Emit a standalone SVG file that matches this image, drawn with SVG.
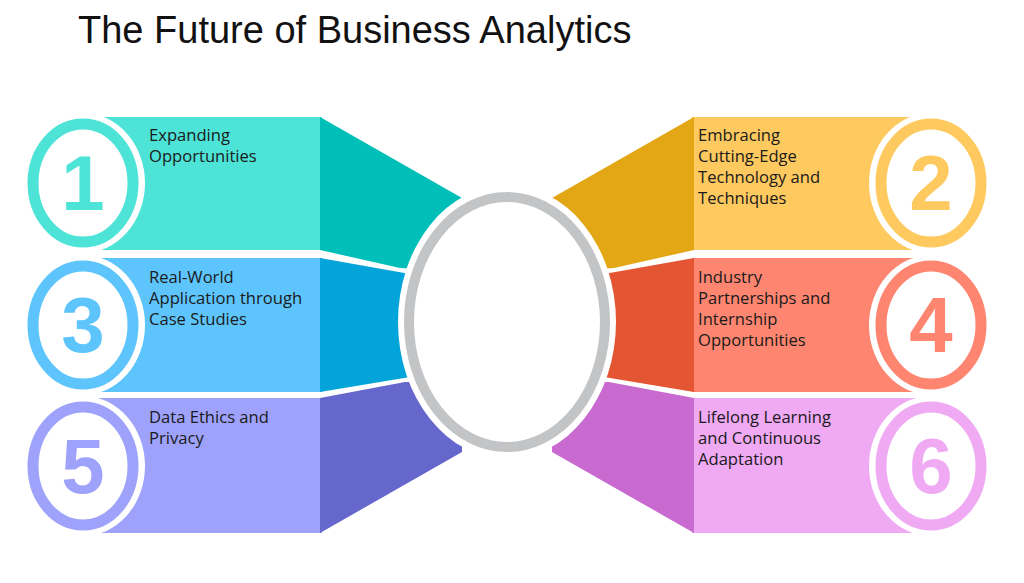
<svg xmlns="http://www.w3.org/2000/svg" width="1024" height="583" viewBox="0 0 1024 583">
<style>
.t{font-family:"Open Sans","Liberation Sans",sans-serif;font-size:16.6px;fill:#1a1a1a}
.n{font-family:"Liberation Sans",Arial,sans-serif;font-size:78px;font-weight:bold;text-anchor:middle}
</style>
<rect width="1024" height="583" fill="#fff"/>
<text x="78" y="43" font-family="Liberation Sans,Arial,sans-serif" font-size="38" fill="#111">The Future of Business Analytics</text>
<g id="bands">
<g id="left">
<rect x="90" y="117" width="232" height="133" fill="#4de3d6"/>
<polygon points="320,117 462,198 462,272 400,268 320,250" fill="#00bfb8"/>
<rect x="90" y="258" width="232" height="134" fill="#5ec5fc"/>
<polygon points="320,258 410,274 410,377 320,392" fill="#02a4da"/>
<rect x="90" y="398" width="232" height="135" fill="#9ea2fb"/>
<polygon points="320,398 405,382 462,382 462,452 320,533" fill="#6667cc"/>
</g>
<g id="right">
<rect x="692" y="117" width="232" height="133" fill="#fec95e"/>
<polygon points="694,117 552,198 552,272 614,268 694,250" fill="#e3a716"/>
<rect x="692" y="258" width="232" height="134" fill="#fe8670"/>
<polygon points="694,258 604,274 604,377 694,392" fill="#e35533"/>
<rect x="692" y="398" width="232" height="135" fill="#efaaf3"/>
<polygon points="694,398 609,382 552,382 552,452 694,533" fill="#c86ad0"/>
</g>
</g>
<g id="center">
<ellipse cx="507" cy="322" rx="109" ry="137" fill="#fff"/>
<ellipse cx="507" cy="322" rx="98" ry="125" fill="#fff" stroke="#c3c4c6" stroke-width="10"/>
</g>
<g id="node1"><ellipse cx="83" cy="183" rx="62" ry="70" fill="#fff"/><ellipse cx="83" cy="183" rx="50" ry="59" fill="#fff" stroke="#4de3d6" stroke-width="11"/><text class="n" x="83" y="210" fill="#4de3d6">1</text><text class="t" x="149" y="141">Expanding</text><text class="t" x="149" y="162">Opportunities</text></g>
<g id="node3"><ellipse cx="83" cy="325" rx="62" ry="70" fill="#fff"/><ellipse cx="83" cy="325" rx="50" ry="59" fill="#fff" stroke="#5ec5fc" stroke-width="11"/><text class="n" x="83" y="352" fill="#5ec5fc">3</text><text class="t" x="149" y="283">Real-World</text><text class="t" x="149" y="304">Application through</text><text class="t" x="149" y="325">Case Studies</text></g>
<g id="node5"><ellipse cx="83" cy="466" rx="62" ry="70" fill="#fff"/><ellipse cx="83" cy="466" rx="50" ry="59" fill="#fff" stroke="#9ea2fb" stroke-width="11"/><text class="n" x="83" y="493" fill="#9ea2fb">5</text><text class="t" x="149" y="423">Data Ethics and</text><text class="t" x="149" y="444">Privacy</text></g>
<g id="node2"><ellipse cx="931" cy="183" rx="62" ry="70" fill="#fff"/><ellipse cx="931" cy="183" rx="50" ry="59" fill="#fff" stroke="#fec95e" stroke-width="11"/><text class="n" x="931" y="210" fill="#fec95e">2</text><text class="t" x="698" y="141">Embracing</text><text class="t" x="698" y="162">Cutting-Edge</text><text class="t" x="698" y="183">Technology and</text><text class="t" x="698" y="204">Techniques</text></g>
<g id="node4"><ellipse cx="931" cy="325" rx="62" ry="70" fill="#fff"/><ellipse cx="931" cy="325" rx="50" ry="59" fill="#fff" stroke="#fe8670" stroke-width="11"/><text class="n" x="931" y="352" fill="#fe8670">4</text><text class="t" x="698" y="283">Industry</text><text class="t" x="698" y="304">Partnerships and</text><text class="t" x="698" y="325">Internship</text><text class="t" x="698" y="346">Opportunities</text></g>
<g id="node6"><ellipse cx="931" cy="466" rx="62" ry="70" fill="#fff"/><ellipse cx="931" cy="466" rx="50" ry="59" fill="#fff" stroke="#efaaf3" stroke-width="11"/><text class="n" x="931" y="493" fill="#efaaf3">6</text><text class="t" x="698" y="423">Lifelong Learning</text><text class="t" x="698" y="444">and Continuous</text><text class="t" x="698" y="465">Adaptation</text></g>
</svg>
